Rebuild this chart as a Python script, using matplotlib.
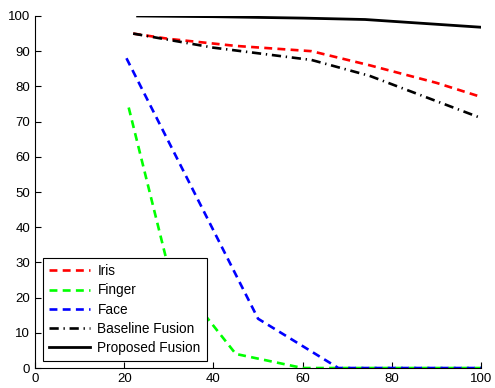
import numpy as np
import matplotlib
matplotlib.use("Agg")
import matplotlib.pyplot as plt

plt.rcParams['font.family'] = ['Liberation Sans', 'DejaVu Sans']

# recognition rate vs. percentage of corrupted samples
iris_x = [22, 30, 45, 62, 75, 90, 100]
iris_y = [95, 93.5, 91.5, 90, 86, 81, 77]

finger_x = [21, 30, 45, 60, 80, 100]
finger_y = [74, 28, 4, 0, 0, 0]

face_x = [20.5, 50, 68, 80, 100]
face_y = [88, 14, 0, 0, 0]

base_x = [22, 40, 62, 75, 100]
base_y = [95, 91, 87.5, 83, 71]

prop_x = [23, 40, 60, 74, 100]
prop_y = [100, 99.8, 99.4, 99, 96.8]

fig = plt.figure(figsize=(4.95, 3.88), dpi=100)
ax = fig.add_axes([0.0707, 0.0515, 0.9013, 0.9073])

dash = (3.0, 2.0)
ax.plot(iris_x, iris_y, '--', color='#ff0000', lw=1.9, dashes=dash, label='Iris')
ax.plot(finger_x, finger_y, '--', color='#00ff00', lw=1.9, dashes=dash, label='Finger')
ax.plot(face_x, face_y, '--', color='#0000ff', lw=1.9, dashes=dash, label='Face')
ax.plot(base_x, base_y, '-.', color='k', lw=1.9, dashes=(3.5, 1.8, 0.5, 1.8), label='Baseline Fusion')
ax.plot(prop_x, prop_y, '-', color='k', lw=2.0, label='Proposed Fusion')

ax.set_xlim(0, 100)
ax.set_ylim(0, 100)
ax.set_xticks(np.arange(0, 101, 20))
ax.set_yticks(np.arange(0, 101, 10))
ax.tick_params(direction='in', length=4, labelsize=9.5, width=0.8)
ax.spines['top'].set_visible(False)
ax.spines['right'].set_visible(False)

leg = ax.legend(loc='lower left', bbox_to_anchor=(0.018, 0.02), borderaxespad=0,
                fontsize=9.8, fancybox=False, framealpha=1, edgecolor='k',
                handlelength=3.0, handletextpad=0.55, labelspacing=0.38, borderpad=0.45)
leg.get_frame().set_linewidth(0.8)

fig.savefig('out.png', dpi=100)
